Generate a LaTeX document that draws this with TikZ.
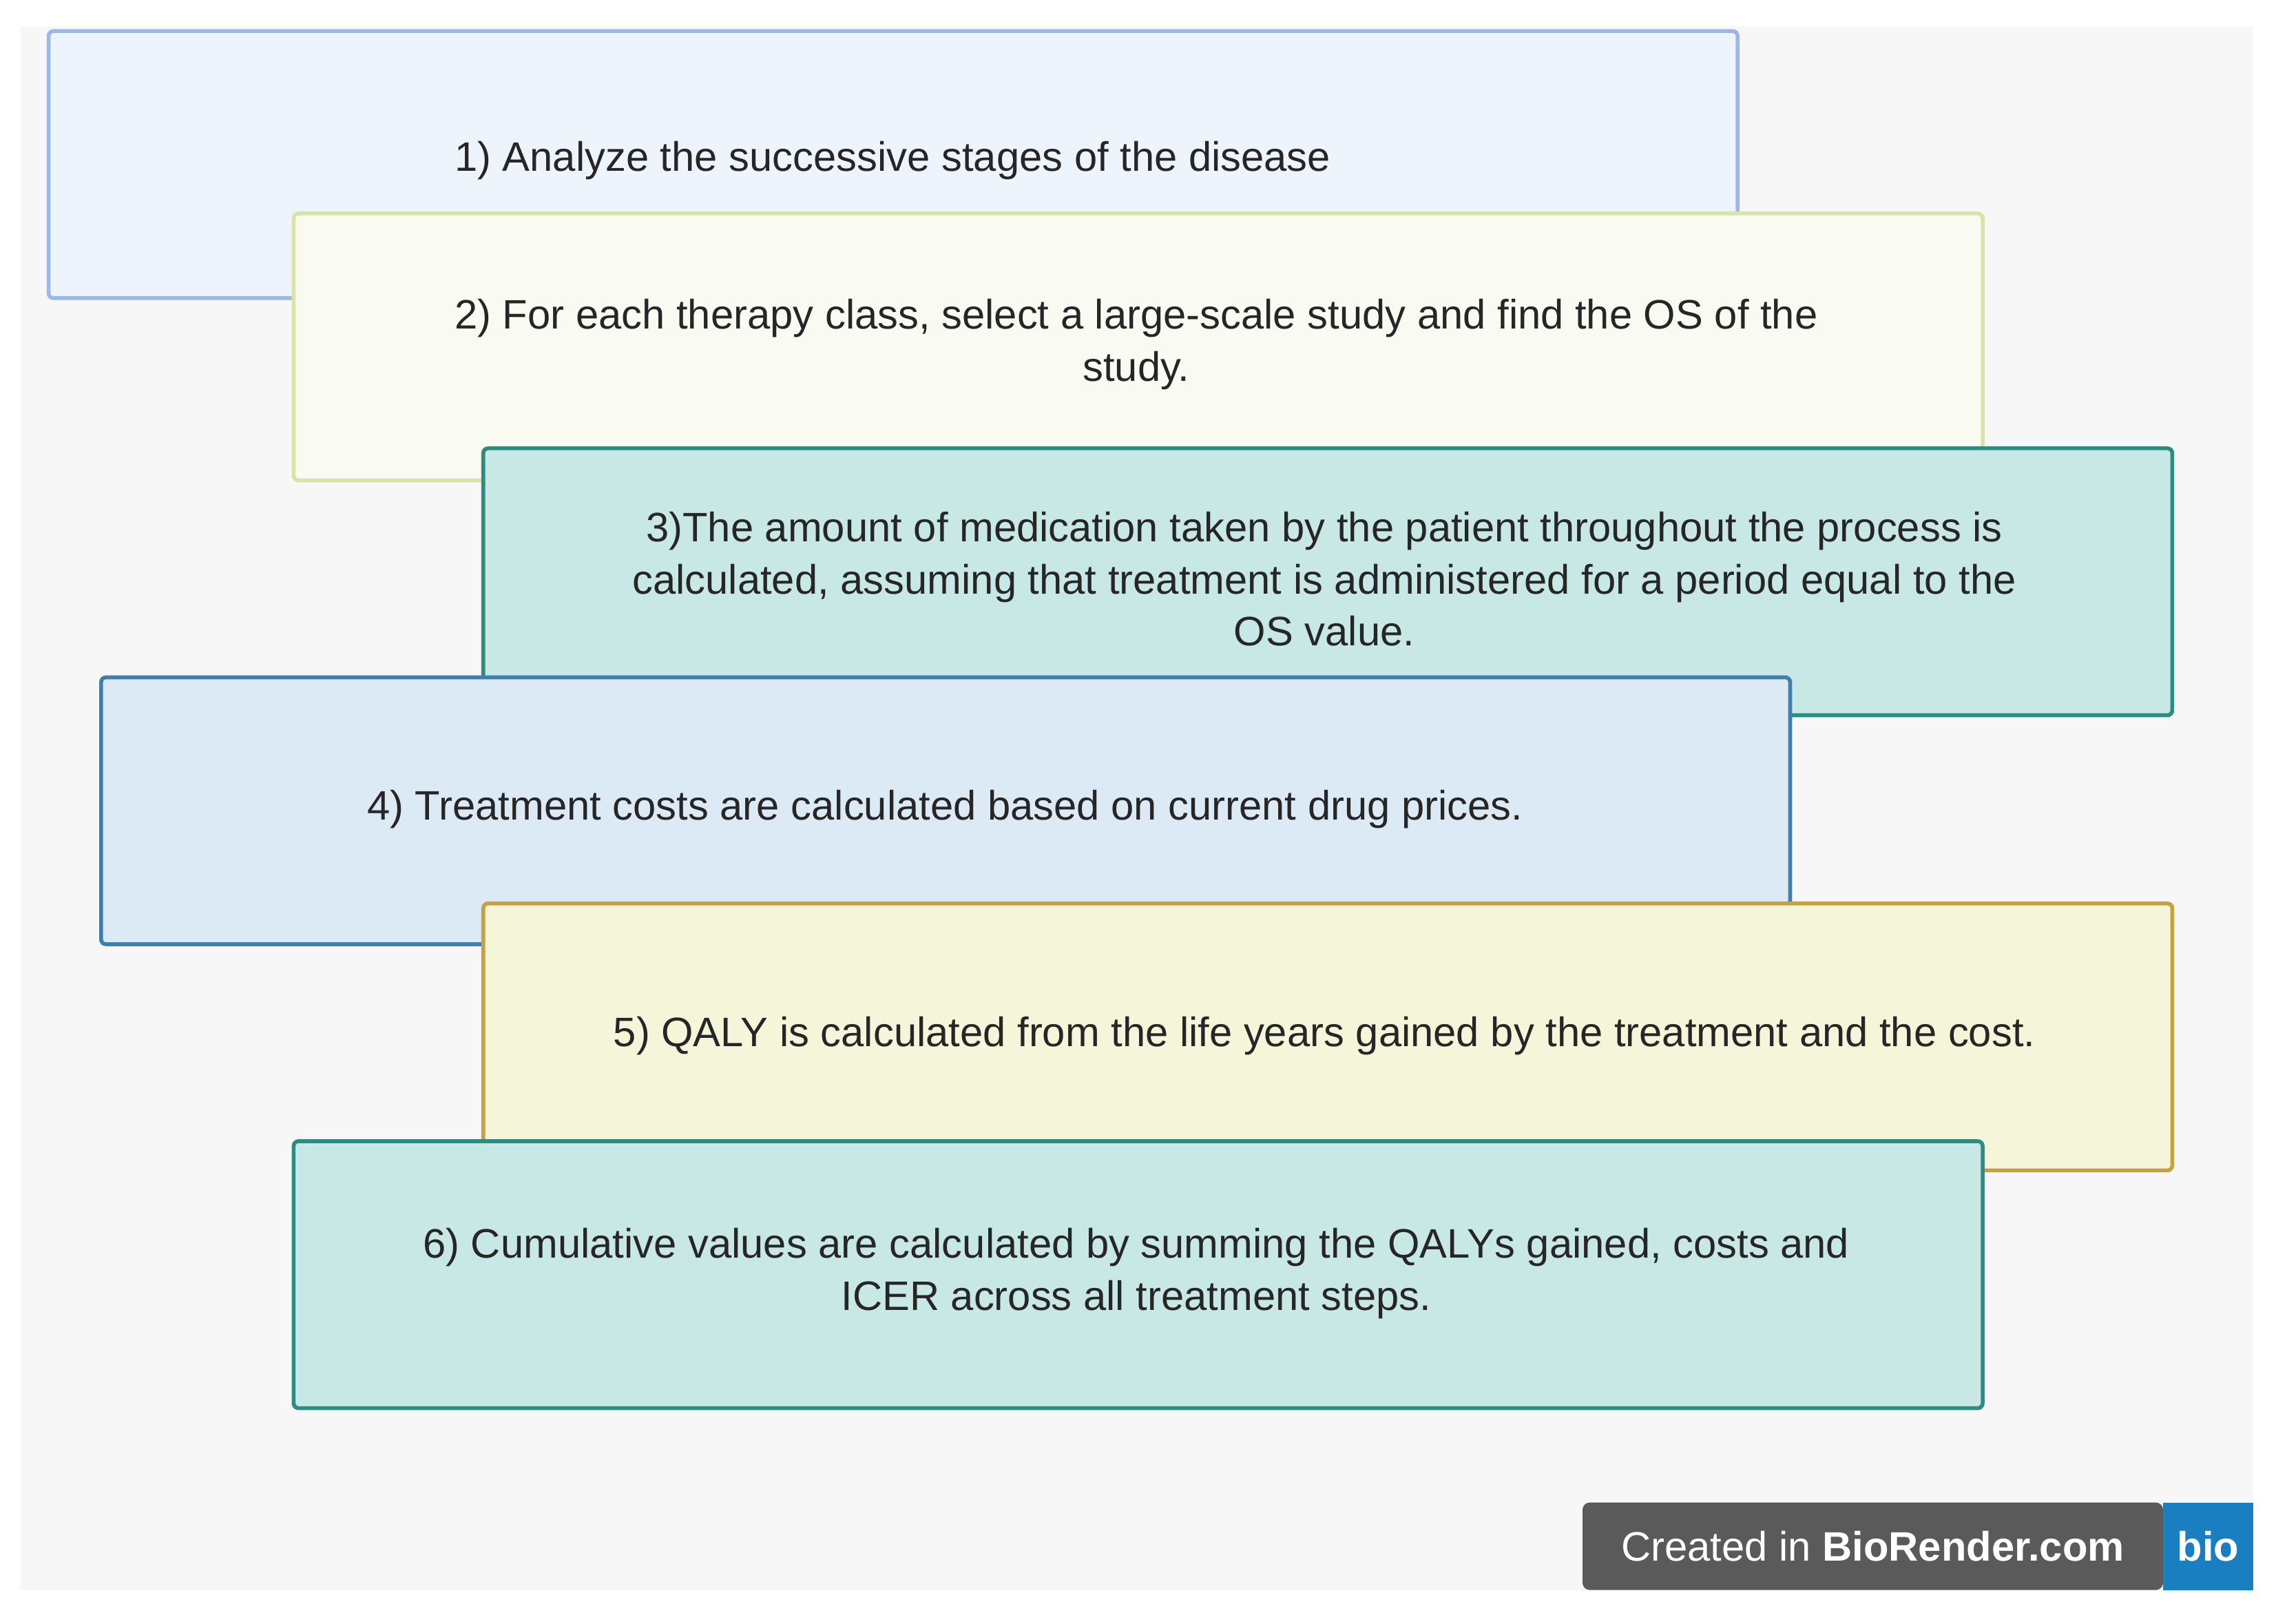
\documentclass[tikz,border=0pt]{standalone}
\usepackage{fontspec}
\setmainfont{Liberation Sans}
\begin{document}
\begin{tikzpicture}[x=0.02118cm,y=-0.02118cm,
 box/.style={draw,line width=1.6pt,rounded corners=2pt,minimum width=1158*0.02118cm,minimum height=183*0.02118cm,anchor=north west,inner sep=0pt},
 txt/.style={align=center,font=\fontsize{17}{21.5}\selectfont,text=black!85}]
\useasboundingbox (0,0) rectangle (1568,1113);
\fill[white] (0,0) rectangle (1568,1113);
\fill[black!3] (14,18) rectangle (1545,1090);
\definecolor{b1f}{HTML}{EEF4FB}\definecolor{b1d}{HTML}{9DB8E8}
\definecolor{b2f}{HTML}{F9FAF2}\definecolor{b2d}{HTML}{D9E3A8}
\definecolor{b3f}{HTML}{C8E8E6}\definecolor{b3d}{HTML}{2E8B80}
\definecolor{b4f}{HTML}{DCEAF5}\definecolor{b4d}{HTML}{3F7FB0}
\definecolor{b5f}{HTML}{F5F5DA}\definecolor{b5d}{HTML}{C8A040}
\node[box,fill=b1f,draw=b1d] (b1) at (32,20) {};
\node[txt] (t1) at (612,110) {1) Analyze the successive stages of the disease};
\node[box,fill=b2f,draw=b2d] (b2) at (200,145) {};
\node[txt] (t2) at (779,236) {2) For each therapy class, select a large-scale study and find the OS of the\\study.};
\node[box,fill=b3f,draw=b3d] (b3) at (330,306) {};
\node[txt] (t3) at (908,397) {3)The amount of medication taken by the patient throughout the process is\\calculated, assuming that treatment is administered for a period equal to the\\OS value.};
\node[box,fill=b4f,draw=b4d] (b4) at (68,463) {};
\node[txt] (t4) at (648,555) {4) Treatment costs are calculated based on current drug prices.};
\node[box,fill=b5f,draw=b5d] (b5) at (330,618) {};
\node[txt] (t5) at (908,710) {5) QALY is calculated from the life years gained by the treatment and the cost.};
\node[box,fill=b3f,draw=b3d] (b6) at (200,781) {};
\node[txt] (t6) at (779,873) {6) Cumulative values are calculated by summing the QALYs gained, costs and\\ICER across all treatment steps.};
\definecolor{bg}{HTML}{5A5A5A}\definecolor{bb}{HTML}{1A7FC1}
\fill[bg,rounded corners=3pt] (1085,1030) rectangle (1483,1090);
\fill[bb] (1483,1030) rectangle (1545,1090);
\node[text=white,font=\fontsize{17}{18}\selectfont] (cr) at (1284,1060) {Created in \textbf{BioRender.com}};
\node[text=white,font=\bfseries\fontsize{17}{18}\selectfont] (bio) at (1514,1060) {bio};
\end{tikzpicture}
\end{document}
